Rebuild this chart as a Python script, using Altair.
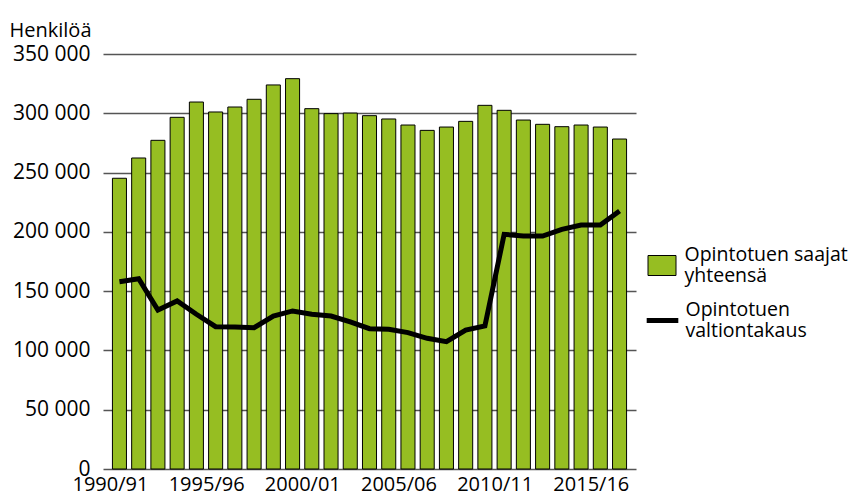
import altair as alt
import pandas as pd

years = ["1990/91", "1991/92", "1992/93", "1993/94", "1994/95", "1995/96", "1996/97",
         "1997/98", "1998/99", "1999/00", "2000/01", "2001/02", "2002/03", "2003/04",
         "2004/05", "2005/06", "2006/07", "2007/08", "2008/09", "2009/10", "2010/11",
         "2011/12", "2012/13", "2013/14", "2014/15", "2015/16", "2016/17"]
recipients = [245200, 262300, 277200, 296600, 309500, 301100, 305300, 311800, 323900,
              329200, 303900, 299700, 300200, 298000, 295200, 290100, 285600, 288400,
              293200, 306700, 302500, 294300, 290700, 288700, 290100, 288400, 278300]
guarantee = [158000, 160500, 134100, 141700, 130500, 120000, 119800, 119200, 129000,
             133300, 130500, 129000, 124000, 118300, 117800, 115000, 110200, 107400,
             117200, 120600, 197900, 196500, 196500, 202100, 205800, 205800, 217600]
x_labels = ["1990/91", "1995/96", "2000/01", "2005/06", "2010/11", "2015/16"]
y_ticks = [0, 50000, 100000, 150000, 200000, 250000, 300000, 350000]
bar_name = "Opintotuen saajat|yhteensä"
line_name = "Opintotuen|valtiontakaus"

df = pd.DataFrame({"vuosi": years, "saajat": recipients, "takaus": guarantee,
                   "s1": bar_name, "s2": line_name})

FONT = "Open Sans"
xscale = alt.Scale(paddingInner=0.27, paddingOuter=0.49)

base = alt.Chart(df)

bars = base.mark_bar(color="#96BE22", stroke="black", strokeWidth=1).encode(
    x=alt.X("vuosi:N", sort=years, scale=xscale,
            axis=alt.Axis(values=x_labels, labelAngle=0, title=None, domain=False,
                          ticks=False, labelPadding=5, labelFontSize=20,
                          labelOffset=-9, labelColor="black", labelFont=FONT,
                          labelBaseline="top", grid=False)),
    y=alt.Y("saajat:Q", scale=alt.Scale(domain=[0, 350000], nice=False),
            axis=alt.Axis(values=y_ticks, title="Henkilöä", titleAngle=0,
                          titleAlign="left", titleX=-94, titleY=-18,
                          titleBaseline="alphabetic", titleFontSize=20,
                          titleFontWeight="normal", titleFont=FONT, titleColor="black",
                          labelExpr="replace(format(datum.value, ','), ',', ' ')",
                          labelFontSize=21, labelFont=FONT, labelColor="black",
                          labelPadding=13, ticks=False, domain=False, grid=True,
                          gridColor="#555555", gridWidth=1.5)),
    fill=alt.Fill("s1:N", scale=alt.Scale(domain=[bar_name], range=["#96BE22"]),
                  legend=alt.Legend(title=None, orient="none", legendX=548.5, legendY=201,
                                    symbolType="M-1.4,-1L1.4,-1L1.4,1L-1.4,1Z",
                                    symbolSize=400, symbolStrokeColor="black",
                                    symbolStrokeWidth=1, symbolOpacity=1,
                                    labelExpr="split(datum.label, '|')",
                                    labelBaseline="line-bottom",
                                    labelFontSize=19.5, labelFont=FONT, labelColor="black",
                                    labelOffset=12, padding=0, labelLimit=300)),
)

line = base.mark_line(strokeWidth=5, strokeJoin="miter").encode(
    x=alt.X("vuosi:N", sort=years),
    y=alt.Y("takaus:Q"),
    stroke=alt.Stroke("s2:N", scale=alt.Scale(domain=[line_name], range=["black"]),
                      legend=alt.Legend(title=None, orient="none", legendX=541, legendY=248,
                                        symbolType="stroke", symbolSize=1000,
                                        symbolStrokeWidth=5,
                                        labelExpr="split(datum.label, '|')",
                                        labelBaseline="line-bottom",
                                        labelFontSize=19.5, labelFont=FONT,
                                        labelColor="black", labelOffset=4.5, padding=0,
                                        labelLimit=300)),
)

chart = alt.layer(bars, line).resolve_scale(fill="independent", stroke="independent").properties(
    width=533, height=415,
    autosize=alt.AutoSizeParams(type="none"),
    padding={"left": 95, "top": 46, "right": 217, "bottom": 25},
).configure(font=FONT).configure_view(stroke=None)

chart.save("out.html", embed_options={"renderer": "svg", "actions": False})
